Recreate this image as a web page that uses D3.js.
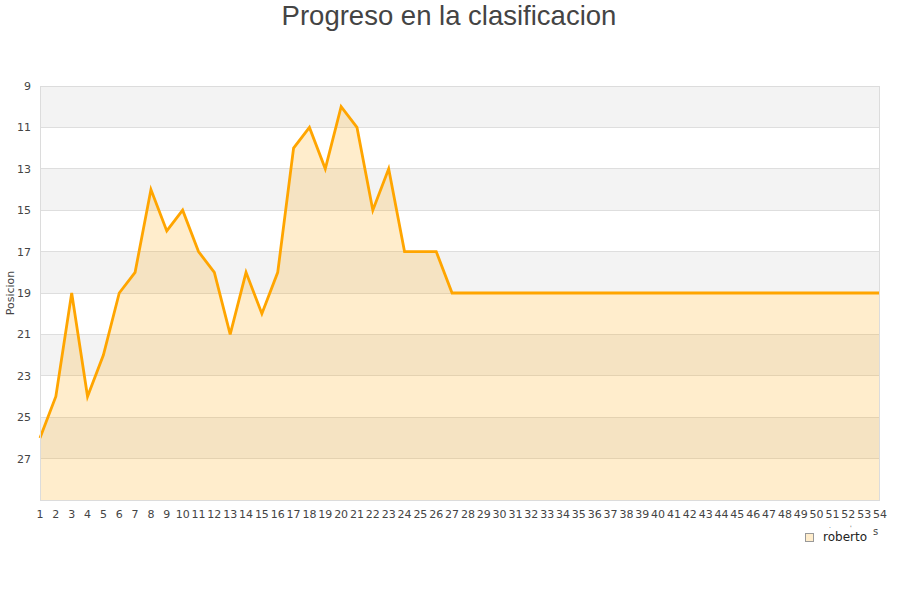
<!DOCTYPE html>
<html><head><meta charset="utf-8">
<script src="https://cdn.jsdelivr.net/npm/d3@7"></script>
<style>body{margin:0;background:#fff}svg{display:block}</style>
</head><body>
<svg id="c" width="900" height="600"></svg>
<script>
const rounds = d3.range(1, 55);
const positions = [26,24,19,24,22,19,18,14,16,15,17,18,21,18,20,18,12,11,13,10,11,15,13,17,17,17,19,
  19,19,19,19,19,19,19,19,19,19,19,19,19,19,19,19,19,19,19,19,19,19,19,19,19,19,19];
const yTicks = [9,11,13,15,17,19,21,23,25,27];
const seriesName = "roberto";
const title = "Progreso en la clasificacion";
const yTitle = "Posicion";

const svg = d3.select("#c");
const L = 40, R = 880, T = 86, B = 500;
const x = d3.scaleLinear().domain([1, 54]).range([L, R]);
const y = d3.scaleLinear().domain([9, 29]).range([T, B]);

const bands = d3.range(9, 29, 2);
svg.selectAll("rect.band").data(bands).enter().append("rect")
  .attr("x", L).attr("width", R - L)
  .attr("y", d => y(d)).attr("height", d => y(d + 2) - y(d))
  .attr("fill", (d, i) => i % 2 === 0 ? "#f3f3f3" : "#ffffff");

svg.selectAll("line.grid").data(d3.range(9, 30, 2)).enter().append("line")
  .attr("x1", L).attr("x2", R).attr("y1", d => y(d)).attr("y2", d => y(d))
  .attr("stroke", "#dedede").attr("stroke-width", 1).attr("shape-rendering", "crispEdges");

const data = rounds.map((r, i) => ({r, p: positions[i]}));
svg.append("path").datum(data)
  .attr("d", d3.area().x(d => x(d.r)).y0(y(29)).y1(d => y(d.p)))
  .attr("fill", "#ffa500").attr("fill-opacity", 0.2);
svg.append("path").datum(data)
  .attr("d", d3.line().x(d => x(d.r)).y(d => y(d.p)))
  .attr("fill", "none").attr("stroke", "#ffa500").attr("stroke-width", 2.8).attr("stroke-linejoin", "miter");

svg.append("rect").attr("x", L + 0.5).attr("y", T + 0.5).attr("width", R - L - 1).attr("height", B - T)
  .attr("fill", "none").attr("stroke", "#dcdcdc").attr("stroke-width", 1);
svg.append("line").attr("x1", L).attr("x2", R).attr("y1", B + 0.5).attr("y2", B + 0.5).attr("stroke", "#dcdcdc");

svg.selectAll("text.yt").data(yTicks).enter().append("text")
  .attr("x", 31).attr("y", d => y(d) + 4).attr("text-anchor", "end")
  .attr("font-family", "DejaVu Sans").attr("font-size", 11).attr("fill", "#444")
  .text(d => d);

svg.selectAll("text.xt").data(rounds).enter().append("text")
  .attr("x", d => x(d)).attr("y", 518).attr("text-anchor", "middle")
  .attr("font-family", "DejaVu Sans").attr("font-size", 11).attr("fill", "#444")
  .text(d => d);

svg.append("text").attr("transform", "translate(14,293) rotate(-90)").attr("text-anchor", "middle")
  .attr("font-family", "DejaVu Sans").attr("font-size", 11).attr("fill", "#444").text(yTitle);

svg.append("text").attr("x", 449).attr("y", 25).attr("text-anchor", "middle")
  .attr("font-family", "Liberation Sans").attr("font-size", 27.5).attr("fill", "#444").text(title);

svg.append("rect").attr("x", 805.5).attr("y", 533.5).attr("width", 8).attr("height", 8)
  .attr("fill", "#ffedcc").attr("stroke", "#999");
svg.append("text").attr("x", 823).attr("y", 541).attr("font-family", "DejaVu Sans")
  .attr("font-size", 12).attr("fill", "#222").text(seriesName);
svg.append("text").attr("x", 873).attr("y", 535).attr("font-family", "DejaVu Sans")
  .attr("font-size", 10).attr("fill", "#444").text("s");
svg.append("text").attr("x", 829).attr("y", 528).attr("font-family", "DejaVu Sans")
  .attr("font-size", 6).attr("fill", "#444").text(".");
svg.append("text").attr("x", 850).attr("y", 530).attr("font-family", "DejaVu Sans")
  .attr("font-size", 6).attr("fill", "#444").text("'");
</script>
</body></html>
